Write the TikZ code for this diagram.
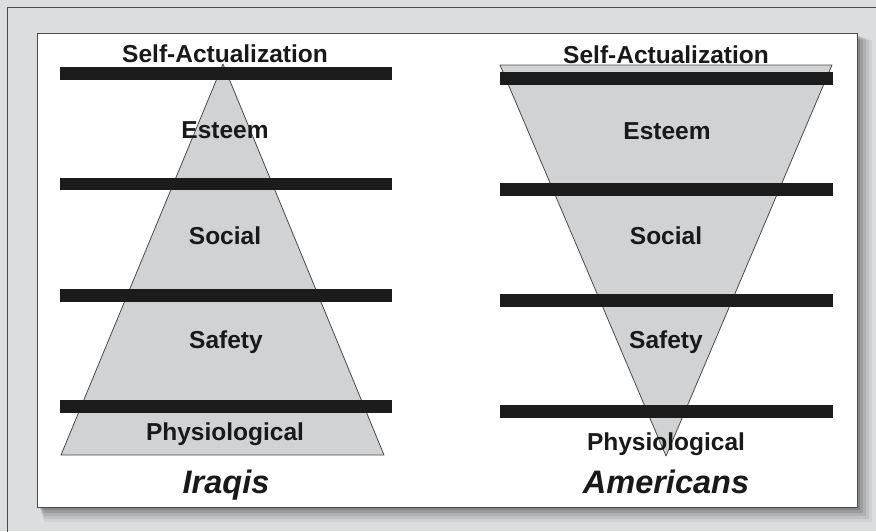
\documentclass[tikz,border=0pt]{standalone}
\usepackage{fontspec}
\setmainfont{Liberation Sans}
\definecolor{pagegray}{HTML}{DCDDDF}
\definecolor{trigray}{HTML}{D1D2D4}
\definecolor{edgegray}{HTML}{4A4A4A}
\definecolor{barblack}{HTML}{1C1C1C}
\begin{document}
\begin{tikzpicture}[x=1pt, y=-1pt,
    bar/.style={fill=barblack},
    tri/.style={fill=trigray, draw=edgegray, line width=.8pt, line join=round},
    lbl/.style={anchor=base, inner sep=0pt, text=black!90, font=\fontsize{24.5}{28}\selectfont\bfseries},
    who/.style={anchor=base, inner sep=0pt, text=black!90, font=\fontsize{32.5}{36}\selectfont\bfseries\itshape}]
  \useasboundingbox (0, 0) rectangle (876, 531);
  \clip (0, 0) rectangle (876, 531);
    %%background
    \fill[pagegray] (0, 0) rectangle (876, 531);
    \draw[edgegray, line width=.8pt] (7, 540) -- (7, 7) -- (885, 7);
    %%shadow
    \fill[black, opacity=.05] (44, 40) rectangle (872, 522);
    \fill[black, opacity=.07] (43, 39) rectangle (869, 519);
    \fill[black, opacity=.09] (42, 38) rectangle (866, 516);
    \fill[black, opacity=.11] (41, 37) rectangle (863, 513);
    \fill[black, opacity=.13] (40, 36) rectangle (860, 510);
    %%panel
    \fill[white] (37, 33) rectangle (857, 507);
    \draw[edgegray, line width=.8pt] (37, 33) rectangle (857, 507);

    %%Iraqis
    \draw[tri] (223, 64) -- (384, 455) -- (61, 455) -- cycle;
    \fill[bar] (60, 67) rectangle (392, 79.5);
    \fill[bar] (60, 177.5) rectangle (392, 190);
    \fill[bar] (60, 289) rectangle (392, 301.5);
    \fill[bar] (60, 399.5) rectangle (392, 412.5);
      \node[lbl] (selfL) at (225, 62) {Self-Actualization};
      \node[lbl] (estL) at (225, 138) {Esteem};
      \node[lbl] (socL) at (225, 244) {Social};
      \node[lbl] (safL) at (226, 348) {Safety};
      \node[lbl] (phyL) at (225, 440) {Physiological};
      \node[who] (iraq) at (226, 493) {Iraqis};

    %%Americans
    \draw[tri] (500, 65) -- (832, 65) -- (666, 456) -- cycle;
    \fill[bar] (500, 72) rectangle (833, 85);
    \fill[bar] (500, 182.5) rectangle (833, 195.5);
    \fill[bar] (500, 293.5) rectangle (833, 306.5);
    \fill[bar] (500, 405) rectangle (833, 418);
      \node[lbl] (selfR) at (666, 63) {Self-Actualization};
      \node[lbl] (estR) at (667, 139) {Esteem};
      \node[lbl] (socR) at (666, 244) {Social};
      \node[lbl] (safR) at (666, 348) {Safety};
      \node[lbl] (phyR) at (666, 450) {Physiological};
      \node[who] (amer) at (666, 493) {Americans};
\end{tikzpicture}
\end{document}
